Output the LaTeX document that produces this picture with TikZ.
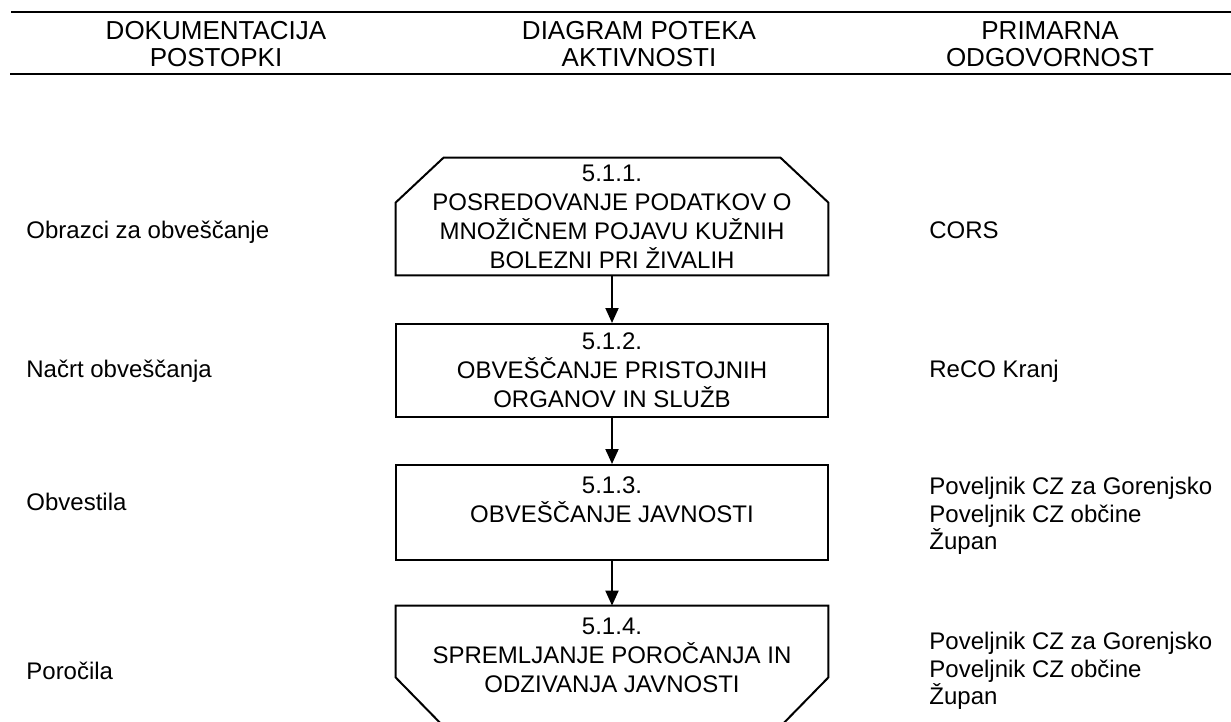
\documentclass[tikz,border=0pt]{standalone}
\usepackage{fontspec}
\setmainfont{Liberation Sans}
\usetikzlibrary{arrows.meta,positioning}

\begin{document}
\begin{tikzpicture}[x=0.5pt, y=-0.5pt,
  txt/.style={inner sep=0pt, font=\fontsize{12}{13.8}\selectfont},
  kopf/.style={txt, align=center, anchor=north, font=\fontsize{13}{13.5}\selectfont},
  akt/.style={txt, align=center, minimum width=216pt, font=\fontsize{12}{14.5}\selectfont},
  rob/.style={line width=1pt, line join=miter},
  pusc/.style={line width=1pt, -{Triangle[width=6.5pt,length=7.5pt]}}
]
\useasboundingbox (0,0) rectangle (1231,722);

%header
\draw[rob] (11,12) -- (1231,12);
\draw[rob] (10,74.5) -- (1231,74.5);
\node[kopf] (dok) at (216,21) {DOKUMENTACIJA\\POSTOPKI};
\node[kopf] (dia) at (639,21) {DIAGRAM POTEKA\\AKTIVNOSTI};
\node[kopf] (odg) at (1050,21) {PRIMARNA\\ODGOVORNOST};

%activities
\node[akt, minimum height=58.5pt] (a1) at (612,216.5) {5.1.1.\\POSREDOVANJE PODATKOV O\\MNOŽIČNEM POJAVU KUŽNIH\\BOLEZNI PRI ŽIVALIH};
\draw[rob] ([yshift=-22.5pt]a1.north west) -- ([xshift=24pt]a1.north west)
  -- ([xshift=-24pt]a1.north east) -- ([yshift=-22.5pt]a1.north east)
  -- (a1.south east) -- (a1.south west) -- cycle;
\node[akt, draw, rob, minimum height=46.5pt] (a2) at (612,370.5) {5.1.2.\\OBVEŠČANJE PRISTOJNIH\\ORGANOV IN SLUŽB};
\node[akt, draw, rob, minimum height=47.5pt] (a3) at (612,512.5) {5.1.3.\\OBVEŠČANJE JAVNOSTI\\[-2pt]\mbox{}};
\node[akt, minimum height=59pt] (a4) at (612,665) {5.1.4.\\SPREMLJANJE POROČANJA IN\\ODZIVANJA JAVNOSTI\\[-4.5pt]\mbox{}};
\draw[rob] (a4.north west) -- (a4.north east) -- ([yshift=23.5pt]a4.south east)
  -- ([xshift=-23pt]a4.south east) -- ([xshift=23pt]a4.south west)
  -- ([yshift=23.5pt]a4.south west) -- cycle;

%flow
\draw[pusc] (a1) -- (a2);
\draw[pusc] (a2) -- (a3);
\draw[pusc] (a3) -- (a4);

%documents
\node[txt, anchor=base west] (d1) at (26,238) {Obrazci za obveščanje};
\node[txt, anchor=base west] (d2) at (26,377) {Načrt obveščanja};
\node[txt, anchor=base west] (d3) at (26,510) {Obvestila};
\node[txt, anchor=base west] (d4) at (26,679) {Poročila};

%responsibility
\node[txt, anchor=base west] (o1) at (929,238) {CORS};
\node[txt, anchor=base west] (o2) at (929,377) {ReCO Kranj};
\node[txt, anchor=north west, align=left] (o3) at (929,477) {Poveljnik CZ za Gorenjsko\\Poveljnik CZ občine\\Župan};
\node[txt, anchor=north west, align=left] (o4) at (929,632) {Poveljnik CZ za Gorenjsko\\Poveljnik CZ občine\\Župan};
\end{tikzpicture}
\end{document}
